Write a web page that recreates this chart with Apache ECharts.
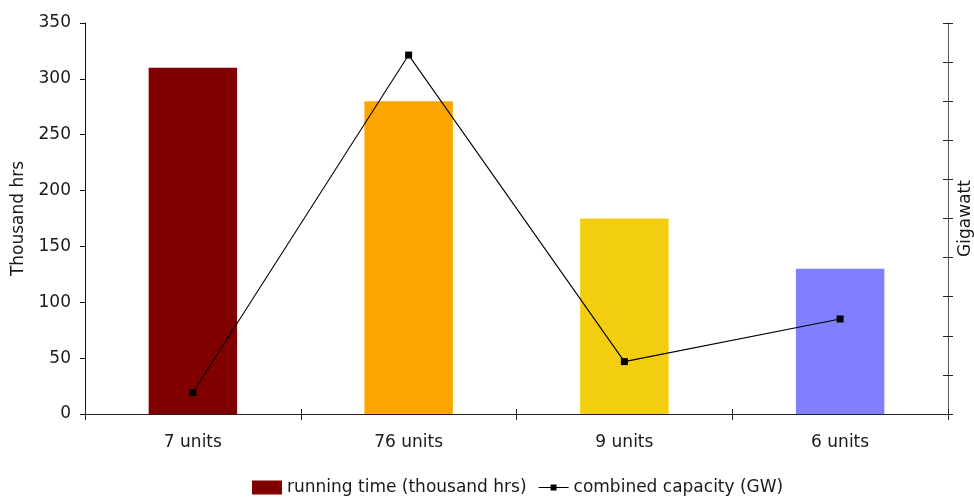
<!DOCTYPE html>
<html>
<head>
<meta charset="utf-8">
<script src="https://cdn.jsdelivr.net/npm/echarts@6/dist/echarts.min.js"></script>
<style>html,body{margin:0;padding:0;background:#fff;}#c{width:974px;height:498px;}</style>
</head>
<body>
<div id="c"></div>
<script>
const categories = ['7 units', '76 units', '9 units', '6 units'];
const runningTime = [310, 280, 175, 130];
const barColors = ['#800000', '#fba600', '#f3cd10', '#8080ff'];
const capacity = [5.5, 91.8, 13.4, 24.3];
const leftTicks = [0, 50, 100, 150, 200, 250, 300, 350];

const font = 'DejaVu Sans';
const txt = '#1a1a1a';
const chart = echarts.init(document.getElementById('c'));
chart.setOption({
  animation: false,
  textStyle: { fontFamily: font },
  grid: { left: 85, right: 26, top: 23, bottom: 84, containLabel: false, outerBoundsMode: 'none' },
  legend: {
    top: 474, left: 247, itemWidth: 30, itemHeight: 14, itemGap: 12,
    textStyle: { fontFamily: font, fontSize: 17, color: txt },
    data: [
      { name: 'running time (thousand hrs)', icon: 'rect' },
      { name: 'combined capacity (GW)', icon: 'path://M0,6.5 L30,6.5 L30,7.5 L0,7.5 Z M12,4 L18,4 L18,10 L12,10 Z', itemStyle: { color: '#000' } }
    ]
  },
  xAxis: [{
    type: 'category', data: categories,
    axisLine: { lineStyle: { color: '#222', width: 1 } },
    axisTick: { show: true, length: 6, lineStyle: { color: '#222' } },
    axisLabel: { fontFamily: font, fontSize: 17, color: txt, margin: 20 }
  }, {
    type: 'category', data: categories, position: 'bottom',
    axisLine: { show: false },
    axisTick: { show: true, inside: true, length: 5, lineStyle: { color: '#222' } },
    axisLabel: { show: false }
  }],
  yAxis: [{
    type: 'value', min: leftTicks[0], max: leftTicks[leftTicks.length - 1], interval: 50,
    name: 'Thousand hrs', nameLocation: 'middle', nameGap: 58, nameRotate: 90,
    nameTextStyle: { fontFamily: font, fontSize: 17, color: txt },
    axisLine: { show: true, lineStyle: { color: '#111' } },
    axisTick: { show: true, length: 5, lineStyle: { color: '#111' } },
    axisLabel: { fontFamily: font, fontSize: 17, color: txt, margin: 14 },
    splitLine: { show: false }
  }, {
    type: 'value', min: 0, max: 100, interval: 10, position: 'right',
    name: 'Gigawatt', nameLocation: 'middle', nameGap: 9, nameRotate: 90,
    nameTextStyle: { fontFamily: font, fontSize: 17, color: txt },
    axisLine: { show: true, lineStyle: { color: '#555' } },
    axisTick: { show: true, length: 5, lineStyle: { color: '#222' } },
    axisLabel: { show: false },
    splitLine: { show: false }
  }, {
    type: 'value', min: 0, max: 100, interval: 10, position: 'right',
    axisLine: { show: false },
    axisTick: { show: true, inside: true, length: 5, lineStyle: { color: '#222' } },
    axisLabel: { show: false },
    splitLine: { show: false }
  }],
  series: [{
    name: 'running time (thousand hrs)', type: 'bar', barWidth: '41%',
    itemStyle: { color: barColors[0] },
    data: runningTime.map((v, i) => ({ value: v, itemStyle: { color: barColors[i] } }))
  }, {
    name: 'combined capacity (GW)', type: 'line', yAxisIndex: 1,
    symbol: 'rect', symbolSize: 7,
    lineStyle: { color: '#000', width: 1.1 },
    itemStyle: { color: '#000' },
    data: capacity
  }]
});
</script>
</body>
</html>
